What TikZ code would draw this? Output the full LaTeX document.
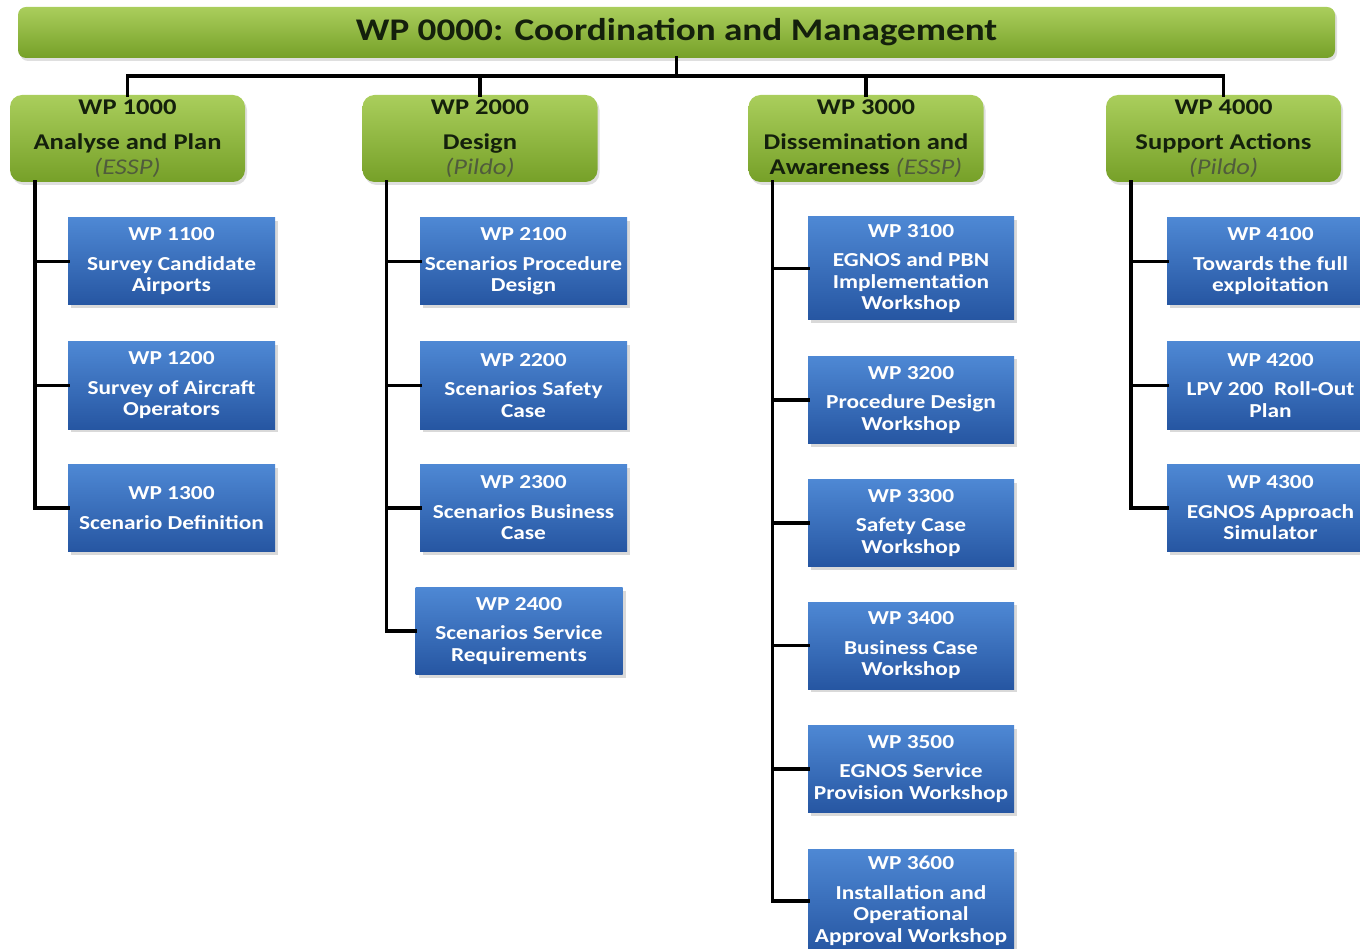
\documentclass[tikz,border=0pt]{standalone}
\usepackage{fontspec}
\setmainfont[FakeStretch=1.18]{Carlito}
\usetikzlibrary{calc, shadows}

\definecolor{wpgreentop}{RGB}{170,206,92}
\definecolor{wpgreenbot}{RGB}{118,160,40}
\definecolor{wpbluetop}{RGB}{78,136,212}
\definecolor{wpbluebot}{RGB}{38,86,162}
\definecolor{wptext}{RGB}{20,32,12}
\definecolor{wpnote}{RGB}{80,92,60}

\begin{document}
\begin{tikzpicture}[x=1pt, y=-1pt,
            wpmain/.style={
                rectangle, rounded corners=8pt, draw=none,
                top color=wpgreentop, bottom color=wpgreenbot,
                drop shadow={opacity=0.25, shadow xshift=2pt, shadow yshift=-3pt},
                minimum width=1317pt, minimum height=51pt,
                text=wptext, font=\fontsize{31.5}{34}\selectfont\bfseries
            },
            wpphase/.style={
                rectangle, rounded corners=12pt, draw=none,
                top color=wpgreentop, bottom color=wpgreenbot,
                drop shadow={opacity=0.25, shadow xshift=2pt, shadow yshift=-3pt},
                minimum width=235pt, minimum height=87pt, inner sep=2pt,
                align=center, text=wptext, font=\fontsize{22.5}{25}\selectfont\bfseries
            },
            wptask/.style={
                rectangle, draw=none,
                top color=wpbluetop, bottom color=wpbluebot,
                drop shadow={opacity=0.3, shadow xshift=3pt, shadow yshift=-3pt},
                minimum width=207pt, minimum height=87pt, inner sep=2pt,
                align=center, text=white, font=\fontsize{19.8}{21.5}\selectfont\bfseries
            },
            tree/.style={line width=3.5pt, line cap=rect}
        ]

            \useasboundingbox (0,0) rectangle (1360,949);

            \newcommand{\owner}[1]{{\mdseries\itshape\color{wpnote}(#1)}}

            \node[wpmain] (wp0000) at (676.5,32.5) {WP 0000: Coordination and Management};

            \node[wpphase] (wp1000) at (127.5,138.5) {WP 1000\\[10pt]Analyse and Plan\\\owner{ESSP}};
            \node[wpphase] (wp2000) at (480,138.5) {WP 2000\\[10pt]Design\\\owner{Pildo}};
            \node[wpphase] (wp3000) at (866,138.5) {WP 3000\\[10pt]Dissemination and\\Awareness \owner{ESSP}};
            \node[wpphase] (wp4000) at (1223.5,138.5) {WP 4000\\[10pt]Support Actions\\\owner{Pildo}};

            \coordinate (bus) at (676.5,76);
            \draw[tree] (wp0000.south) -- (bus);
            \draw[tree] (wp1000.north) -- (wp1000.north |- bus) -- (wp4000.north |- bus) -- (wp4000.north);
            \draw[tree] (wp2000.north) -- (wp2000.north |- bus);
            \draw[tree] (wp3000.north) -- (wp3000.north |- bus);

            % WP 1000
            \node[wptask] (wp1100) at (171.5,261.5) {WP 1100\\[8pt]Survey Candidate\\Airports};
            \node[wptask] (wp1200) at (171.5,385.5) {WP 1200\\[8pt]Survey of Aircraft\\Operators};
            \node[wptask] (wp1300) at (171.5,508) {WP 1300\\[8pt]Scenario Definition};

            % WP 2000
            \node[wptask] (wp2100) at (523.5,261.5) {WP 2100\\[8pt]Scenarios Procedure\\Design};
            \node[wptask] (wp2200) at (523.5,385.5) {WP 2200\\[8pt]Scenarios Safety\\Case};
            \node[wptask] (wp2300) at (523.5,508) {WP 2300\\[8pt]Scenarios Business\\Case};
            \node[wptask] (wp2400) at (519,631) {WP 2400\\[8pt]Scenarios Service\\Requirements};

            % WP 3000
            \node[wptask, minimum width=206pt, minimum height=103pt] (wp3100) at (911,268.5) {WP 3100\\[8pt]EGNOS and PBN\\Implementation\\Workshop};
            \node[wptask, minimum width=206pt] (wp3200) at (911,400) {WP 3200\\[8pt]Procedure Design\\Workshop};
            \node[wptask, minimum width=206pt] (wp3300) at (911,523) {WP 3300\\[8pt]Safety Case\\Workshop};
            \node[wptask, minimum width=206pt] (wp3400) at (911,645.5) {WP 3400\\[8pt]Business Case\\Workshop};
            \node[wptask, minimum width=206pt] (wp3500) at (911,769) {WP 3500\\[8pt]EGNOS Service\\Provision Workshop};
            \node[wptask, minimum width=206pt, minimum height=104pt] (wp3600) at (911,901) {WP 3600\\[8pt]Installation and\\Operational\\Approval Workshop};

            % WP 4000
            \node[wptask] (wp4100) at (1270.5,261.5) {WP 4100\\[8pt]Towards the full\\exploitation};
            \node[wptask] (wp4200) at (1270.5,385.5) {WP 4200\\[8pt]LPV 200~ Roll-Out\\Plan};
            \node[wptask] (wp4300) at (1270.5,508) {WP 4300\\[8pt]EGNOS Approach\\Simulator};

            \coordinate (t1) at ($(wp1000.south west)+(25,0)$);
            \coordinate (t2) at ($(wp2000.south west)+(24,0)$);
            \coordinate (t3) at ($(wp3000.south west)+(24,0)$);
            \coordinate (t4) at ($(wp4000.south west)+(25,0)$);

            \draw[tree] (t1) |- (wp1300.west);
            \draw[tree] (t1 |- wp1100.west) -- (wp1100.west);
            \draw[tree] (t1 |- wp1200.west) -- (wp1200.west);

            \draw[tree] (t2) |- (wp2400.west);
            \draw[tree] (t2 |- wp2100.west) -- (wp2100.west);
            \draw[tree] (t2 |- wp2200.west) -- (wp2200.west);
            \draw[tree] (t2 |- wp2300.west) -- (wp2300.west);

            \draw[tree] (t3) |- (wp3600.west);
            \draw[tree] (t3 |- wp3100.west) -- (wp3100.west);
            \draw[tree] (t3 |- wp3200.west) -- (wp3200.west);
            \draw[tree] (t3 |- wp3300.west) -- (wp3300.west);
            \draw[tree] (t3 |- wp3400.west) -- (wp3400.west);
            \draw[tree] (t3 |- wp3500.west) -- (wp3500.west);

            \draw[tree] (t4) |- (wp4300.west);
            \draw[tree] (t4 |- wp4100.west) -- (wp4100.west);
            \draw[tree] (t4 |- wp4200.west) -- (wp4200.west);

        \end{tikzpicture}
\end{document}
